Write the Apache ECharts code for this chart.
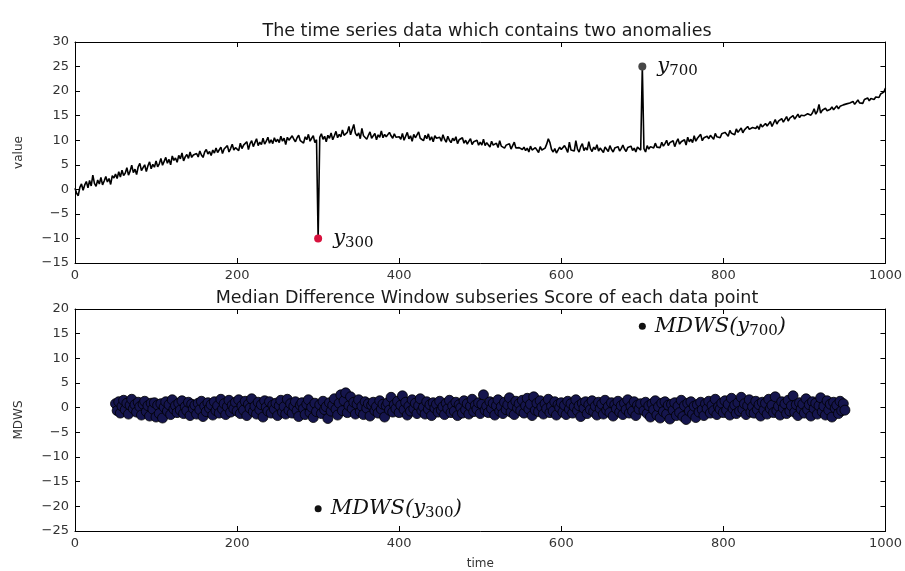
<!DOCTYPE html>
<html>
<head>
<meta charset="utf-8">
<script src="https://cdn.jsdelivr.net/npm/echarts@6/dist/echarts.min.js"></script>
<style>
  html, body { margin: 0; padding: 0; background: #ffffff; }
  #chart { width: 905px; height: 571px; }
</style>
</head>
<body>
<div id="chart"></div>
<script>
// Raw series, sampled every 2 time steps from t = 0 to t = 1000
const seriesStep = 2;
const seriesValues = [
  0.2,-0.8,-1.3,0.4,1.1,-0.2,0.9,1.6,0.3,1.8,0.7,2.9,1.2,0.6,1.9,1.1,2.4,0.9,1.7,2.6,1.5,2.2,1.0,2.8,2.3,
  3.1,2.2,3.6,2.5,3.9,2.8,3.3,4.4,2.9,3.7,4.9,3.4,4.1,3.0,4.6,5.3,3.8,4.4,5.0,3.6,4.8,5.6,4.2,5.1,4.5,
  5.8,4.6,5.2,6.3,4.9,5.7,6.5,5.3,6.1,5.0,6.8,5.9,6.4,5.5,6.9,6.2,7.4,5.8,6.6,7.1,6.3,7.6,6.5,7.0,6.7,
  7.3,6.6,7.8,7.0,6.5,7.6,8.1,7.2,7.7,6.9,8.0,7.4,8.4,7.5,7.9,8.6,7.3,8.2,7.8,8.9,7.6,8.3,9.2,8.0,8.5,
  8.8,7.9,9.4,8.3,9.0,8.6,9.7,8.1,9.3,9.9,8.7,9.5,10.3,8.9,9.6,9.1,10.4,9.2,9.8,10.6,9.4,10.1,9.3,10.5,9.7,
  10.2,9.5,10.8,9.8,10.4,9.1,10.6,10.0,9.6,10.9,10.2,9.7,10.5,11.0,9.9,10.3,9.4,10.7,10.1,11.2,9.8,10.4,10.9,9.5,10.1,
  -10,10.6,11.3,10.2,10.8,9.7,11.0,10.4,11.5,10.1,10.9,11.8,10.5,11.2,10.7,12.1,11.0,10.6,11.6,12.8,11.1,10.8,13.2,11.4,10.9,
  11.5,10.3,12.4,10.9,11.3,10.2,11.0,11.7,10.4,10.8,11.4,10.1,11.1,10.6,11.9,10.5,11.2,10.7,10.3,11.6,10.9,10.4,11.3,10.6,11.0,
  10.7,10.2,11.4,10.0,10.8,11.6,10.3,10.9,9.8,11.2,10.5,10.1,11.7,10.4,10.6,9.9,11.0,10.3,11.3,10.0,10.7,9.7,10.9,10.4,10.1,
  10.6,9.8,11.1,10.2,9.6,10.8,10.0,9.5,10.4,9.9,10.7,9.3,10.1,9.7,10.5,9.4,10.0,9.2,9.8,10.3,9.1,9.7,9.4,10.0,9.0,
  9.6,9.0,10.2,8.9,9.5,9.1,8.6,9.8,9.0,8.7,9.4,8.5,9.9,8.8,9.2,8.4,9.0,8.6,9.3,8.2,8.9,9.6,8.4,8.8,8.5,
  8.9,8.1,8.6,7.9,8.4,7.6,8.8,8.0,7.7,8.5,8.2,7.5,8.7,8.0,7.8,8.4,9.2,10.3,9.5,8.1,7.6,8.3,7.4,8.0,8.6,
  8.1,7.7,8.9,8.3,7.5,9.6,8.0,8.4,7.8,9.9,8.2,7.6,8.7,9.3,7.9,8.5,8.0,9.7,8.3,7.7,8.6,8.1,9.1,7.8,8.4,
  8.0,7.5,8.6,8.2,7.7,8.9,8.1,7.6,8.4,8.0,8.7,7.8,8.3,9.0,8.2,7.7,8.5,8.1,8.8,7.9,8.4,7.6,8.6,8.2,8.0,
  25,8.3,7.6,8.9,8.2,8.7,9.1,8.4,9.4,8.6,9.0,8.5,9.6,8.8,9.3,10.0,8.9,9.5,9.1,9.9,8.7,9.6,10.3,9.2,9.7,
  9.4,10.1,9.0,10.6,9.7,10.2,9.5,10.9,9.8,10.4,10.0,11.2,9.9,10.5,10.1,10.8,10.3,11.0,10.6,10.2,11.4,10.7,11.1,10.5,11.3,
  10.9,11.6,11.2,10.8,12.0,11.4,11.8,11.1,12.3,11.6,11.9,12.5,11.5,12.1,11.8,12.8,12.2,11.9,12.6,13.0,12.4,12.9,12.2,13.3,12.7,
  12.6,13.4,12.9,13.1,13.8,12.8,13.5,14.2,13.3,13.9,13.6,14.4,13.7,14.1,14.8,13.9,14.5,14.2,15.0,14.3,14.7,15.3,14.6,15.1,14.8,
  15.0,14.6,15.4,15.8,15.1,15.6,16.4,15.3,15.9,17.3,15.5,16.1,15.7,16.5,16.0,15.6,16.3,16.8,16.2,16.6,17.0,16.4,16.9,16.6,17.2,
  16.9,17.4,17.0,17.6,17.2,17.9,17.3,17.7,18.2,17.6,18.0,17.5,18.3,18.1,18.6,18.0,18.5,18.9,18.3,18.8,19.2,18.7,19.4,19.0,19.8,
  20.6
];

// MDWS score, sampled every 2 time steps from t = 50 to t = 950
const mdwsStart = 50;
const mdwsStep = 2;
const mdwsValues = [
  0.8,-0.6,1.2,-1.1,0.3,1.5,-0.4,0.9,-1.3,0.5,1.7,-0.2,0.6,-0.9,1.1,0.2,-1.5,0.7,1.3,-0.8,0.4,-1.7,0.9,-0.3,1.0,
  -1.9,0.5,-1.2,0.8,-2.1,0.1,1.2,-0.7,0.6,-1.4,1.6,-0.3,0.4,-1.0,0.9,-0.5,1.4,-1.2,0.2,-0.6,1.1,-1.6,0.7,-0.2,0.5,
  -1.3,0.9,-0.4,1.3,-1.8,0.3,-0.8,1.0,-0.1,0.6,-1.5,1.2,-0.6,0.4,-1.1,1.7,-0.3,0.8,-1.4,0.2,1.5,-0.9,0.5,-0.2,1.1,
  -0.7,1.6,-1.2,0.4,-0.5,1.3,-1.6,0.7,-0.1,1.8,-0.8,0.3,-1.3,1.1,-0.4,0.6,-1.9,1.4,0.1,-0.7,1.2,-1.1,0.5,-0.3,0.9,
  -1.6,0.4,1.5,-0.9,0.2,-1.3,1.7,-0.5,0.8,-1.1,0.3,1.2,-0.6,-1.8,0.5,1.0,-0.2,-1.4,0.7,1.6,-1.0,0.1,-2.0,0.9,-0.8,
  -20.5,0.6,-1.2,1.3,-0.4,0.2,-2.2,1.0,-0.7,0.5,1.8,-0.3,-1.5,0.9,2.6,-0.6,1.4,3.0,-1.0,0.4,2.2,-0.2,1.1,-1.3,0.7,
  1.6,-0.8,0.3,-1.4,1.2,-0.1,0.8,-1.7,0.5,1.1,-0.6,0.2,-1.1,1.4,-0.3,0.7,-1.9,0.4,1.0,-0.5,2.1,-0.9,0.6,-0.2,1.3,
  -1.0,0.5,2.4,-0.4,1.1,-1.5,0.3,-0.7,1.6,-0.2,0.9,-1.2,0.4,1.8,-0.6,0.1,-1.3,1.2,-0.3,0.6,-1.6,1.0,-0.1,0.7,-0.9,
  1.3,-0.5,0.2,-1.4,0.9,-0.2,1.5,-1.0,0.4,-0.7,1.1,-1.6,0.6,0.0,-1.1,1.4,-0.4,0.8,-1.3,0.3,1.7,-0.8,0.5,-0.3,1.0,
  -1.2,0.7,2.6,-0.5,0.3,-1.0,1.2,-0.2,0.9,-1.5,0.4,1.6,-0.7,0.2,-1.2,1.1,-0.4,0.6,2.0,-0.9,0.5,-1.4,1.3,-0.1,0.8,
  -0.6,1.5,-1.1,0.4,1.9,-0.3,0.7,-1.6,2.2,-0.5,0.9,-0.8,1.4,0.1,-1.3,0.8,-0.2,1.7,-1.0,0.3,-0.7,1.2,-1.5,0.6,0.0,
  1.0,-0.9,0.5,-1.4,1.3,-0.3,0.8,-1.1,0.2,1.6,-0.6,0.4,-1.8,0.9,-0.1,1.2,-1.2,0.6,-0.4,1.4,-0.8,0.3,-1.5,1.1,-0.2,
  0.7,-1.3,1.5,-0.5,0.2,-1.0,1.0,-1.7,0.6,-0.2,1.3,-0.9,0.4,-1.4,0.9,-0.4,1.6,-1.1,0.3,-0.7,1.2,-1.6,0.5,-0.3,0.8,
  16.5,-0.6,1.1,-1.2,0.4,-1.9,0.8,-0.4,1.4,-1.5,0.2,-2.1,0.9,-0.8,1.2,-1.3,0.5,-2.3,0.7,-0.5,1.0,-1.6,0.3,-1.0,1.5,
  -1.8,0.4,-2.4,0.9,-0.7,1.2,-1.3,0.3,-2.0,0.6,-0.9,1.1,-0.4,-1.6,0.8,-0.2,1.3,-1.1,0.5,-0.6,1.7,-1.4,0.2,-0.3,0.9,
  -1.0,1.4,-0.5,0.7,-1.5,1.9,-0.2,0.5,-1.2,1.0,-0.7,2.1,-0.3,0.8,-1.4,0.4,1.6,-0.9,0.2,-1.1,1.3,-0.4,0.6,-1.7,1.1,
  -0.5,0.9,-1.3,1.7,-0.2,0.5,-1.0,2.2,-0.6,0.3,-1.5,1.2,-0.1,0.8,-1.2,1.5,-0.7,0.4,2.4,-0.9,0.6,-1.6,1.0,-0.3,0.7,
  -1.1,1.8,-0.4,0.6,-1.7,1.2,-0.2,0.9,-1.3,0.4,2.0,-0.8,0.3,-1.5,1.4,-0.5,0.7,-1.9,1.1,-0.1,0.5,-1.2,1.3,-0.6,0.8,
  -0.5
];

const anomalyTimes = [300, 700];
const anomalyColors = ['#d8123e', '#474747'];

const titles = [
  'The time series data which contains two anomalies',
  'Median Difference Window subseries Score of each data point'
];
const timeTicks = { min: 0, max: 1000, interval: 200 };
const valueTicks = { min: -15, max: 30, interval: 5 };
const mdwsTicks = { min: -25, max: 20, interval: 5 };

// ---- build the plotted data from the arrays above ----
const linePoints = seriesValues.map((v, i) => [i * seriesStep, v]);
const mdwsPoints = mdwsValues.map((v, i) => [mdwsStart + i * mdwsStep, v]);
const valueAt = t => seriesValues[t / seriesStep];
const mdwsAt = t => mdwsValues[(t - mdwsStart) / mdwsStep];
const normalScores = mdwsPoints.filter(p => anomalyTimes.indexOf(p[0]) < 0);

const FONT = 'DejaVu Sans';
const SERIF = 'DejaVu Serif';
const minus = v => String(v).replace('-', '\u2212');

function frameAxis(grid, pos, ticks, labels, name, nameGap) {
  return {
    type: 'value', gridIndex: grid, position: pos,
    min: ticks.min, max: ticks.max, interval: ticks.interval,
    name: name || '', nameLocation: 'middle', nameGap: nameGap || 0,
    nameTextStyle: { fontFamily: FONT, fontSize: 12, color: '#333' },
    axisLine: { show: true, onZero: false, lineStyle: { color: '#000', width: 1 } },
    axisTick: { show: true, inside: true, length: 5, lineStyle: { color: '#000', width: 1 } },
    axisLabel: {
      show: labels, fontFamily: FONT, fontSize: 13, color: '#333', margin: 6,
      formatter: minus
    },
    splitLine: { show: false }
  };
}

const mathRich = {
  i: { fontFamily: SERIF, fontStyle: 'italic', fontSize: 21, color: '#111', lineHeight: 26 },
  s: { fontFamily: SERIF, fontSize: 15, color: '#111', lineHeight: 26, padding: [9, 0, 0, 0] }
};

const option = {
  backgroundColor: '#ffffff',
  animation: false,
  title: [
    { text: titles[0], left: 482, top: 17, textAlign: 'center',
      textStyle: { fontFamily: FONT, fontSize: 17.5, fontWeight: 'normal', color: '#1a1a1a' } },
    { text: titles[1], left: 482, top: 284, textAlign: 'center',
      textStyle: { fontFamily: FONT, fontSize: 17.5, fontWeight: 'normal', color: '#1a1a1a' } }
  ],
  grid: [
    { left: 75, right: 15, top: 42, height: 221, show: false },
    { left: 75, right: 15, top: 309, height: 223, show: false }
  ],
  xAxis: [
    frameAxis(0, 'bottom', timeTicks, true),
    frameAxis(0, 'top', timeTicks, false),
    frameAxis(1, 'bottom', timeTicks, true, 'time', 27),
    frameAxis(1, 'top', timeTicks, false)
  ],
  yAxis: [
    frameAxis(0, 'left', valueTicks, true, 'value', 50),
    frameAxis(0, 'right', valueTicks, false),
    frameAxis(1, 'left', mdwsTicks, true, 'MDWS', 50),
    frameAxis(1, 'right', mdwsTicks, false)
  ],
  series: [
    {
      type: 'line', xAxisIndex: 0, yAxisIndex: 0,
      data: linePoints, showSymbol: false, symbol: 'none',
      lineStyle: { color: '#000', width: 1.6 }, z: 2
    },
    {
      type: 'scatter', xAxisIndex: 0, yAxisIndex: 0, symbolSize: 8, z: 3,
      data: anomalyTimes.map((t, k) => ({
        value: [t, valueAt(t)],
        itemStyle: { color: anomalyColors[k], opacity: 1 }
      })),
      label: {
        show: true, position: 'right', distance: 11,
        formatter: p => '{i|y}{s|' + p.value[0] + '}',
        rich: mathRich
      }
    },
    {
      type: 'scatter', xAxisIndex: 2, yAxisIndex: 2, symbolSize: 10, z: 2,
      data: normalScores,
      itemStyle: { color: '#15154d', borderColor: '#000', borderWidth: 0.8, opacity: 1 }
    },
    {
      type: 'scatter', xAxisIndex: 2, yAxisIndex: 2, symbolSize: 7, z: 3,
      data: anomalyTimes.map(t => [t, mdwsAt(t)]),
      itemStyle: { color: '#111', opacity: 1 },
      label: {
        show: true, position: 'right', distance: 9,
        formatter: p => '{i|MDWS(y}{s|' + p.value[0] + '}{i|)}',
        rich: mathRich
      }
    }
  ]
};

const chart = echarts.init(document.getElementById('chart'), null, { renderer: 'canvas' });
chart.setOption(option);
</script>
</body>
</html>
